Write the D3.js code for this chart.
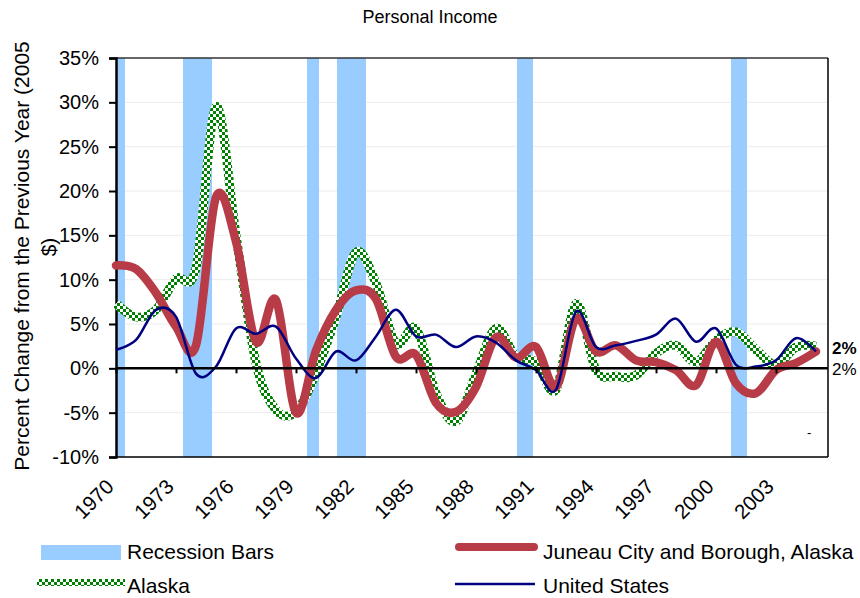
<!DOCTYPE html>
<html>
<head>
<meta charset="utf-8">
<script src="https://cdn.jsdelivr.net/npm/d3@7"></script>
<style>
  html, body { margin: 0; padding: 0; background: #fff; }
  svg { display: block; font-family: "Liberation Sans", Arial, sans-serif; }
</style>
</head>
<body>
<svg id="chart" width="860" height="598"></svg>
<script>
// Annual percent change in personal income (2005 $)
const years = d3.range(1970, 2006);

const juneau = [11.6, 11.2, 8.5, 4.7, 2.6, 19.3, 14.3, 3.0, 7.7, -5.0,
                2.0, 6.6, 8.8, 7.8, 1.3, 1.5, -3.9, -4.9, -2.1, 3.5,
                1.2, 2.4, -2.1, 5.6, 1.9, 2.6, 0.9, 0.7, -0.2, -1.9,
                3.0, -1.7, -2.8, -0.2, 0.6, 1.9];

const alaska = [7.3, 5.8, 6.6, 10.1, 11.3, 29.5, 15.0, 0.6, -4.7, -4.9,
                -0.5, 5.8, 13.1, 9.6, 2.8, 4.5, -2.8, -6.0, -0.6, 4.5,
                1.3, 0.7, -2.4, 7.3, -0.2, -0.9, -0.8, 1.7, 2.6, 0.7,
                3.2, 4.1, 2.1, 0.4, 2.4, 2.5];

const unitedStates = [2.1, 3.2, 6.6, 5.8, -0.6, 0.2, 4.5, 3.9, 4.7, 1.1,
                      -1.1, 1.9, 0.9, 3.6, 6.6, 3.6, 3.8, 2.4, 3.6, 2.9,
                      0.9, -0.2, -2.4, 6.4, 2.4, 2.6, 3.1, 3.8, 5.6, 3.0,
                      4.5, 0.4, 0.2, 0.9, 3.4, 1.9];

// Recession periods, in fractional years
const recessionStart = [1970.0, 1973.35, 1979.55, 1981.05, 1990.05, 2000.75];
const recessionEnd   = [1970.45, 1974.8, 1980.15, 1982.5, 1990.85, 2001.55];

const yTicks = [-10, -5, 0, 5, 10, 15, 20, 25, 30, 35];
const xTicks = [1970, 1973, 1976, 1979, 1982, 1985, 1988, 1991, 1994, 1997, 2000, 2003];

const endLabels = ["2%", "2%"];

const svg = d3.select("#chart");

const x = d3.scaleLinear().domain([1970, 2005.6]).range([116, 828]);
const y = d3.scaleLinear().domain([-10, 35]).range([457, 58]);

const [plotLeft, plotRight] = x.range();
const [plotBottom, plotTop] = y.range();

// checkered fill for the Alaska series
const defs = svg.append("defs");
const pat = defs.append("pattern")
  .attr("id", "checker")
  .attr("patternUnits", "userSpaceOnUse")
  .attr("width", 6).attr("height", 6);
pat.append("rect").attr("width", 6).attr("height", 6).attr("fill", "#ffffff");
pat.append("rect").attr("width", 3).attr("height", 3).attr("fill", "#008000");
pat.append("rect").attr("x", 3).attr("y", 3).attr("width", 3).attr("height", 3).attr("fill", "#008000");

// title
svg.append("text")
  .attr("x", 430).attr("y", 23)
  .attr("text-anchor", "middle")
  .attr("font-size", 18)
  .text("Personal Income");

// horizontal gridlines
svg.append("g")
  .selectAll("line")
  .data(yTicks.filter(d => d !== 0 && d !== 35 && d !== -10))
  .join("line")
  .attr("x1", plotLeft).attr("x2", plotRight)
  .attr("y1", d => y(d)).attr("y2", d => y(d))
  .attr("stroke", "#ececec").attr("stroke-width", 1);

// recession bars
svg.append("g")
  .selectAll("rect")
  .data(recessionStart.map((s, i) => [s, recessionEnd[i]]))
  .join("rect")
  .attr("x", d => x(d[0]))
  .attr("width", d => x(d[1]) - x(d[0]))
  .attr("y", plotTop)
  .attr("height", plotBottom - plotTop)
  .attr("fill", "#99ccff");

// plot frame
svg.append("line").attr("x1", plotLeft).attr("x2", plotRight).attr("y1", plotTop).attr("y2", plotTop)
  .attr("stroke", "#333").attr("stroke-width", 1.5);
svg.append("line").attr("x1", plotRight).attr("x2", plotRight).attr("y1", plotTop).attr("y2", plotBottom)
  .attr("stroke", "#000").attr("stroke-width", 1.5);
svg.append("line").attr("x1", plotLeft).attr("x2", plotRight).attr("y1", plotBottom).attr("y2", plotBottom)
  .attr("stroke", "#000").attr("stroke-width", 1.5);

// y axis
const yAxis = svg.append("g")
  .attr("transform", `translate(${plotLeft},0)`)
  .call(d3.axisLeft(y).tickValues(yTicks).tickFormat(d => d + "%").tickSize(7).tickPadding(10));
yAxis.select(".domain").attr("stroke", "#000").attr("stroke-width", 2.5);
yAxis.selectAll(".tick line").attr("stroke", "#000").attr("stroke-width", 2);
yAxis.selectAll(".tick text")
  .attr("font-size", 20)
  .attr("font-family", "Liberation Sans, Arial, sans-serif")
  .attr("fill", "#000");

// y axis title (two lines)
svg.append("text")
  .attr("transform", "translate(29,256) rotate(-90)")
  .attr("text-anchor", "middle")
  .attr("font-size", 21)
  .text("Percent Change from the Previous Year (2005");
svg.append("text")
  .attr("transform", "translate(56,247) rotate(-90)")
  .attr("text-anchor", "middle")
  .attr("font-size", 21)
  .text("$)");

// series lines
const line = d3.line()
  .x((d, i) => x(years[i]))
  .y(d => y(d))
  .curve(d3.curveCardinal.tension(0));

svg.append("path")
  .datum(alaska)
  .attr("d", line)
  .attr("fill", "none")
  .attr("stroke", "url(#checker)")
  .attr("stroke-width", 9)
  .attr("stroke-linejoin", "round");

svg.append("path")
  .datum(juneau)
  .attr("d", line)
  .attr("fill", "none")
  .attr("stroke", "#b83c47")
  .attr("stroke-width", 8.5)
  .attr("stroke-linejoin", "round")
  .attr("stroke-linecap", "round");

svg.append("path")
  .datum(unitedStates)
  .attr("d", line)
  .attr("fill", "none")
  .attr("stroke", "#000080")
  .attr("stroke-width", 2.5)
  .attr("stroke-linejoin", "round");

// zero line with category ticks
const xAxis = svg.append("g")
  .attr("transform", `translate(0,${y(0)})`)
  .call(d3.axisBottom(x).tickValues(xTicks).tickFormat("").tickSize(5));
xAxis.select(".domain").remove();
xAxis.selectAll(".tick line").attr("stroke", "#000").attr("stroke-width", 2);
svg.append("line")
  .attr("x1", plotLeft).attr("x2", plotRight)
  .attr("y1", y(0)).attr("y2", y(0))
  .attr("stroke", "#000").attr("stroke-width", 2.5);

// rotated year labels beneath the plot
svg.append("g")
  .selectAll("text")
  .data(xTicks)
  .join("text")
  .attr("transform", d => `translate(${x(d) - 1},${plotBottom + 31}) rotate(-45)`)
  .attr("text-anchor", "end")
  .attr("font-size", 20.5)
  .text(d => d);

// end-of-series labels
svg.append("text")
  .attr("x", plotRight + 4).attr("y", 354)
  .attr("font-size", 17).attr("font-weight", "bold")
  .text(endLabels[0]);
svg.append("text")
  .attr("x", plotRight + 4).attr("y", 375)
  .attr("font-size", 17)
  .text(endLabels[1]);
svg.append("text")
  .attr("x", x(2004.55)).attr("y", y(-7.8))
  .attr("font-size", 13)
  .text("-");

// legend
const legend = svg.append("g").attr("font-size", 21);
legend.append("rect")
  .attr("x", 41).attr("y", 545).attr("width", 80).attr("height", 15)
  .attr("fill", "#99ccff");
legend.append("text").attr("x", 127).attr("y", 559).text("Recession Bars");

legend.append("line")
  .attr("x1", 37).attr("x2", 125).attr("y1", 582.5).attr("y2", 582.5)
  .attr("stroke", "url(#checker)").attr("stroke-width", 7);
legend.append("text").attr("x", 127).attr("y", 593).text("Alaska");

legend.append("line")
  .attr("x1", 459).attr("x2", 534).attr("y1", 547).attr("y2", 547)
  .attr("stroke", "#b83c47").attr("stroke-width", 8).attr("stroke-linecap", "round");
legend.append("text").attr("x", 543).attr("y", 559).text("Juneau City and Borough, Alaska");

legend.append("line")
  .attr("x1", 455).attr("x2", 535).attr("y1", 584).attr("y2", 584)
  .attr("stroke", "#000080").attr("stroke-width", 2.5);
legend.append("text").attr("x", 543).attr("y", 593).text("United States");
</script>
</body>
</html>
